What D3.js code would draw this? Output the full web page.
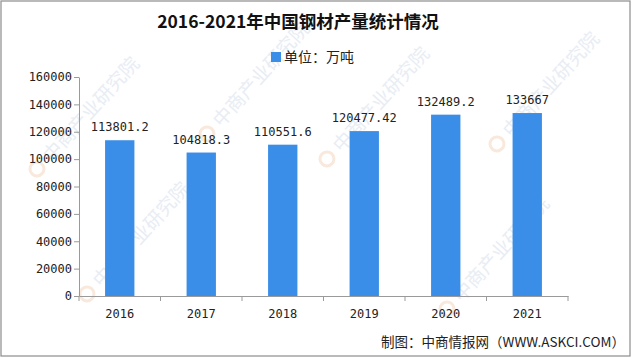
<!DOCTYPE html>
<html>
<head>
<meta charset="utf-8">
<script src="https://cdn.jsdelivr.net/npm/d3@7"></script>
<style>
  html, body { margin: 0; padding: 0; background: #fff; }
  svg { display: block; }
</style>
</head>
<body>
<svg id="chart" width="640" height="358"></svg>
<script>
const years = ["2016", "2017", "2018", "2019", "2020", "2021"];
const output = [113801.2, 104818.3, 110551.6, 120477.42, 132489.2, 133667];
const yTicks = [0, 20000, 40000, 60000, 80000, 100000, 120000, 140000, 160000];
const titleText = "2016-2021年中国钢材产量统计情况";
const legendText = "单位：万吨";
const sourceText = "制图：中商情报网（WWW.ASKCI.COM）";
const watermarkText = "中商产业研究院";

const W = 640, H = 358;
const svg = d3.select("#chart");
const barColor = "#3a8ee8";
const axisColor = "#9a9a9a";
const cjk = "'Noto Sans CJK SC', 'Noto Sans', sans-serif";
const mono = "'DejaVu Sans Mono', 'Liberation Mono', monospace";

// background
svg.append("rect").attr("x", 0).attr("y", 0).attr("width", W).attr("height", H).attr("fill", "#fff");

// watermarks (kept inside the frame)
const wm = svg.append("g").attr("class", "watermarks");
const wmPos = [[95, 285], [335, 150], [455, 300], [45, 160], [505, 135], [215, 125]];
wmPos.forEach(([x, y]) => {
  const g = wm.append("g").attr("transform", `translate(${x},${y}) rotate(-48)`);
  g.append("circle").attr("cx", -12).attr("cy", 0).attr("r", 7)
    .attr("fill", "none").attr("stroke", "#f9e8dc").attr("stroke-width", 3);
  g.append("text").attr("x", 2).attr("y", 7).text(watermarkText)
    .attr("font-family", cjk).attr("font-size", 19).attr("fill", "#e8edf4");
});

// frame
svg.append("rect").attr("x", 1).attr("y", 1).attr("width", 629).attr("height", 355)
  .attr("fill", "none").attr("stroke", "#8c8c8c").attr("stroke-width", 1.2);

// scales
const x = d3.scaleBand().domain(years).range([79, 568]).paddingInner(0.64).paddingOuter(0.32);
const y = d3.scaleLinear().domain([0, 160000]).range([296, 77]);

// title
svg.append("text").attr("x", 298).attr("y", 28).attr("text-anchor", "middle")
  .attr("font-family", cjk).attr("font-weight", "bold").attr("font-size", 17.5)
  .attr("fill", "#111").text(titleText);

// legend
svg.append("rect").attr("x", 271).attr("y", 52).attr("width", 10).attr("height", 10).attr("fill", barColor);
svg.append("text").attr("x", 284).attr("y", 62).attr("font-family", cjk).attr("font-size", 14)
  .attr("fill", "#222").text(legendText);

// y axis
const yAxis = d3.axisLeft(y).tickValues(yTicks).tickSize(5).tickSizeOuter(0).tickFormat(d => String(d));
const gy = svg.append("g").attr("transform", `translate(79,0)`).call(yAxis);
gy.select(".domain").attr("stroke", axisColor);
gy.selectAll(".tick line").attr("stroke", axisColor);
gy.selectAll(".tick text").attr("font-family", mono).attr("font-size", 12).attr("fill", "#222").attr("x", -7);

// x axis
const xAxis = d3.axisBottom(x).tickSize(0).tickSizeOuter(0);
const gx = svg.append("g").attr("transform", `translate(0,296)`).call(xAxis);
gx.select(".domain").attr("stroke", axisColor);
gx.selectAll(".tick text").attr("font-family", mono).attr("font-size", 12).attr("fill", "#222").attr("dy", "1.55em");
// boundary ticks between categories
const bounds = years.map(d => x(d) - x.step() * x.paddingInner() / 2);
bounds.push(x.range()[1]);
bounds[0] = x.range()[0];
gx.selectAll(".bound").data(bounds).enter().append("line")
  .attr("x1", d => d).attr("x2", d => d).attr("y1", 0).attr("y2", 5).attr("stroke", axisColor);

// bars
svg.append("g").selectAll("rect").data(years).enter().append("rect")
  .attr("x", d => x(d)).attr("y", (d, i) => y(output[i]))
  .attr("width", x.bandwidth()).attr("height", (d, i) => y(0) - y(output[i]))
  .attr("fill", barColor);

// value labels
svg.append("g").selectAll("text").data(years).enter().append("text")
  .attr("x", d => x(d) + x.bandwidth() / 2).attr("y", (d, i) => y(output[i]) - 9)
  .attr("text-anchor", "middle").attr("font-family", mono).attr("font-size", 12).attr("fill", "#222")
  .text((d, i) => String(output[i]));

// source
svg.append("text").attr("x", 625).attr("y", 347).attr("text-anchor", "end")
  .attr("font-family", cjk).attr("font-size", 13.5).attr("fill", "#222").text(sourceText);
</script>
</body>
</html>
